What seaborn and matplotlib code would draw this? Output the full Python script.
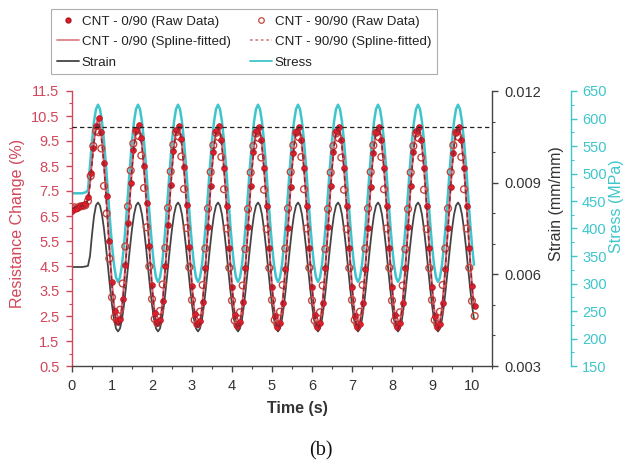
import numpy as np
import matplotlib
matplotlib.use("Agg")
import matplotlib.pyplot as plt
from matplotlib.lines import Line2D
from matplotlib.ticker import MultipleLocator, FixedLocator, FormatStrFormatter
import seaborn as sns

# ---------------- data ----------------
t_line = np.round(np.arange(202) * 0.05, 2)          # 0.00 ... 10.05 s
t_raw = np.round(np.arange(152) / 15.0, 3)           # raw sampling, 0 ... 10.07 s

stress_mpa = [
    464, 464, 464, 464, 464, 464, 465, 466, 470, 514, 559, 594, 617,
    625, 617, 594, 559, 514, 464, 414, 369, 334, 311, 303, 311, 334, 369, 414, 464, 514, 559, 594, 617,
    625, 617, 594, 559, 514, 464, 414, 369, 334, 311, 303, 311, 334, 369, 414, 464, 514, 559, 594, 617,
    625, 617, 594, 559, 514, 464, 414, 369, 334, 311, 303, 311, 334, 369, 414, 464, 514, 559, 594, 617,
    625, 617, 594, 559, 514, 464, 414, 369, 334, 311, 303, 311, 334, 369, 414, 464, 514, 559, 594, 617,
    625, 617, 594, 559, 514, 464, 414, 369, 334, 311, 303, 311, 334, 369, 414, 464, 514, 559, 594, 617,
    625, 617, 594, 559, 514, 464, 414, 369, 334, 311, 303, 311, 334, 369, 414, 464, 514, 559, 594, 617,
    625, 617, 594, 559, 514, 464, 414, 369, 334, 311, 303, 311, 334, 369, 414, 464, 514, 559, 594, 617,
    625, 617, 594, 559, 514, 464, 414, 369, 334, 311, 303, 311, 334, 369, 414, 464, 514, 559, 594, 617,
    625, 617, 594, 559, 514, 464, 414, 369, 334, 311, 303, 311, 334, 369, 414, 464, 514, 559, 594, 617,
    625, 617, 594, 559, 514, 464, 414, 369, 334,
]

strain_mm = [
    0.00624, 0.00624, 0.00624, 0.00624, 0.00624, 0.00624, 0.00625, 0.00626, 0.00628, 0.00660, 0.00730, 0.00790, 0.00826,
    0.00835, 0.00825, 0.00795, 0.00748, 0.00689, 0.00624, 0.00559, 0.00500, 0.00453, 0.00423, 0.00413, 0.00423, 0.00453, 0.00500, 0.00559, 0.00624, 0.00689, 0.00748, 0.00795, 0.00825,
    0.00835, 0.00825, 0.00795, 0.00748, 0.00689, 0.00624, 0.00559, 0.00500, 0.00453, 0.00423, 0.00413, 0.00423, 0.00453, 0.00500, 0.00559, 0.00624, 0.00689, 0.00748, 0.00795, 0.00825,
    0.00835, 0.00825, 0.00795, 0.00748, 0.00689, 0.00624, 0.00559, 0.00500, 0.00453, 0.00423, 0.00413, 0.00423, 0.00453, 0.00500, 0.00559, 0.00624, 0.00689, 0.00748, 0.00795, 0.00825,
    0.00835, 0.00825, 0.00795, 0.00748, 0.00689, 0.00624, 0.00559, 0.00500, 0.00453, 0.00423, 0.00413, 0.00423, 0.00453, 0.00500, 0.00559, 0.00624, 0.00689, 0.00748, 0.00795, 0.00825,
    0.00835, 0.00825, 0.00795, 0.00748, 0.00689, 0.00624, 0.00559, 0.00500, 0.00453, 0.00423, 0.00413, 0.00423, 0.00453, 0.00500, 0.00559, 0.00624, 0.00689, 0.00748, 0.00795, 0.00825,
    0.00835, 0.00825, 0.00795, 0.00748, 0.00689, 0.00624, 0.00559, 0.00500, 0.00453, 0.00423, 0.00413, 0.00423, 0.00453, 0.00500, 0.00559, 0.00624, 0.00689, 0.00748, 0.00795, 0.00825,
    0.00835, 0.00825, 0.00795, 0.00748, 0.00689, 0.00624, 0.00559, 0.00500, 0.00453, 0.00423, 0.00413, 0.00423, 0.00453, 0.00500, 0.00559, 0.00624, 0.00689, 0.00748, 0.00795, 0.00825,
    0.00835, 0.00825, 0.00795, 0.00748, 0.00689, 0.00624, 0.00559, 0.00500, 0.00453, 0.00423, 0.00413, 0.00423, 0.00453, 0.00500, 0.00559, 0.00624, 0.00689, 0.00748, 0.00795, 0.00825,
    0.00835, 0.00825, 0.00795, 0.00748, 0.00689, 0.00624, 0.00559, 0.00500, 0.00453, 0.00423, 0.00413, 0.00423, 0.00453, 0.00500, 0.00559, 0.00624, 0.00689, 0.00748, 0.00795, 0.00825,
    0.00835, 0.00825, 0.00795, 0.00748, 0.00689, 0.00624, 0.00559, 0.00500, 0.00453,
]

spline_0_90 = [
    6.70, 6.74, 6.78, 6.82, 6.85, 6.88, 6.93, 7.00, 7.20, 7.85, 8.70, 9.50, 10.10,
    10.40, 10.15, 9.55, 8.60, 7.45, 6.15, 4.90, 3.80, 2.95, 2.42, 2.25, 2.40, 2.90, 3.76, 4.86, 6.08, 7.32, 8.44, 9.33, 9.90,
    10.12, 9.90, 9.33, 8.44, 7.32, 6.08, 4.84, 3.73, 2.86, 2.32, 2.15, 2.30, 2.84, 3.72, 4.83, 6.08, 7.32, 8.44, 9.33, 9.90,
    10.10, 9.90, 9.33, 8.44, 7.32, 6.08, 4.83, 3.71, 2.83, 2.28, 2.10, 2.27, 2.83, 3.71, 4.83, 6.08, 7.32, 8.44, 9.33, 9.90,
    10.08, 9.88, 9.32, 8.44, 7.32, 6.08, 4.83, 3.71, 2.82, 2.25, 2.05, 2.25, 2.82, 3.71, 4.83, 6.08, 7.32, 8.44, 9.33, 9.90,
    10.10, 9.90, 9.33, 8.44, 7.32, 6.07, 4.82, 3.70, 2.81, 2.24, 2.03, 2.24, 2.81, 3.70, 4.82, 6.07, 7.32, 8.44, 9.33, 9.90,
    10.08, 9.88, 9.32, 8.43, 7.31, 6.07, 4.82, 3.70, 2.81, 2.24, 2.04, 2.24, 2.81, 3.70, 4.82, 6.07, 7.31, 8.43, 9.32, 9.89,
    10.10, 9.90, 9.33, 8.44, 7.32, 6.08, 4.83, 3.71, 2.82, 2.25, 2.05, 2.25, 2.82, 3.71, 4.83, 6.08, 7.32, 8.44, 9.33, 9.90,
    10.08, 9.88, 9.32, 8.43, 7.31, 6.07, 4.82, 3.70, 2.81, 2.24, 2.04, 2.24, 2.81, 3.70, 4.82, 6.07, 7.31, 8.43, 9.32, 9.89,
    10.10, 9.90, 9.33, 8.44, 7.32, 6.08, 4.83, 3.71, 2.82, 2.25, 2.05, 2.25, 2.82, 3.71, 4.83, 6.08, 7.32, 8.44, 9.33, 9.90,
    10.10, 9.90, 9.33, 8.44, 7.32, 6.08, 4.83, 3.71, 2.85,
]

spline_90_90 = [
    6.80, 6.82, 6.84, 6.86, 6.88, 6.90, 6.93, 6.98, 7.15, 7.75, 8.60, 9.45, 10.00,
    10.25, 10.00, 9.40, 8.48, 7.33, 6.06, 4.80, 3.68, 2.80, 2.24, 2.05, 2.22, 2.78, 3.66, 4.78, 6.03, 7.27, 8.39, 9.28, 9.85,
    10.06, 9.86, 9.29, 8.40, 7.28, 6.04, 4.79, 3.67, 2.78, 2.22, 2.03, 2.21, 2.78, 3.66, 4.78, 6.03, 7.27, 8.39, 9.28, 9.85,
    10.05, 9.85, 9.28, 8.39, 7.27, 6.03, 4.78, 3.66, 2.77, 2.20, 2.00, 2.20, 2.77, 3.66, 4.78, 6.03, 7.27, 8.39, 9.28, 9.85,
    10.04, 9.84, 9.27, 8.38, 7.26, 6.02, 4.77, 3.65, 2.76, 2.19, 1.99, 2.19, 2.76, 3.65, 4.77, 6.02, 7.26, 8.38, 9.27, 9.84,
    10.05, 9.85, 9.28, 8.39, 7.27, 6.03, 4.78, 3.66, 2.77, 2.20, 2.00, 2.20, 2.77, 3.66, 4.78, 6.03, 7.27, 8.39, 9.28, 9.85,
    10.04, 9.84, 9.27, 8.38, 7.26, 6.02, 4.77, 3.65, 2.76, 2.19, 1.99, 2.19, 2.76, 3.65, 4.77, 6.02, 7.26, 8.38, 9.27, 9.84,
    10.05, 9.85, 9.28, 8.39, 7.27, 6.03, 4.78, 3.66, 2.77, 2.20, 2.00, 2.20, 2.77, 3.66, 4.78, 6.03, 7.27, 8.39, 9.28, 9.85,
    10.04, 9.84, 9.27, 8.38, 7.26, 6.02, 4.77, 3.65, 2.76, 2.19, 1.99, 2.19, 2.76, 3.65, 4.77, 6.02, 7.26, 8.38, 9.27, 9.84,
    10.05, 9.85, 9.28, 8.39, 7.27, 6.03, 4.78, 3.66, 2.77, 2.20, 2.00, 2.20, 2.77, 3.66, 4.78, 6.03, 7.27, 8.39, 9.28, 9.85,
    10.05, 9.85, 9.28, 8.39, 7.27, 6.03, 4.78, 3.66, 2.77,
]

raw_0_90 = [
    6.70, 6.78, 6.83, 6.88, 6.92, 6.98, 7.25, 8.20, 9.20, 10.10, 10.42, 9.85, 8.60, 7.30, 5.50,
    3.85, 2.70, 2.30, 2.38, 3.20, 4.55, 6.20, 7.80, 9.15, 9.95, 10.12, 9.60, 8.50, 7.00, 5.30,
    3.75, 2.62, 2.25, 2.35, 3.12, 4.48, 6.12, 7.75, 9.10, 9.92, 10.10, 9.58, 8.46, 6.95, 5.26,
    3.70, 2.58, 2.20, 2.30, 3.08, 4.42, 6.06, 7.70, 9.05, 9.88, 10.08, 9.55, 8.42, 6.90, 5.22,
    3.68, 2.55, 2.12, 2.26, 3.05, 4.40, 6.05, 7.68, 9.04, 9.88, 10.06, 9.54, 8.42, 6.89, 5.22,
    3.66, 2.52, 2.05, 2.22, 3.02, 4.38, 6.03, 7.66, 9.02, 9.86, 10.05, 9.52, 8.40, 6.88, 5.20,
    3.68, 2.54, 2.08, 2.24, 3.04, 4.40, 6.05, 7.68, 9.04, 9.88, 10.06, 9.54, 8.42, 6.89, 5.22,
    3.66, 2.52, 2.05, 2.20, 3.02, 4.38, 6.03, 7.66, 9.02, 9.86, 10.05, 9.52, 8.40, 6.88, 5.20,
    3.68, 2.54, 2.06, 2.22, 3.04, 4.40, 6.05, 7.68, 9.04, 9.88, 10.06, 9.54, 8.42, 6.89, 5.22,
    3.66, 2.52, 2.05, 2.20, 3.02, 4.38, 6.03, 7.66, 9.02, 9.86, 10.05, 9.52, 8.40, 6.88, 5.20,
    3.70, 2.90,
]

raw_90_90 = [
    6.80, 6.85, 6.82, 6.88, 6.90, 6.93, 7.10, 8.10, 9.30, 9.90, 9.85, 9.20, 7.70, 6.60, 4.80,
    3.25, 2.45, 2.30, 2.75, 3.80, 5.28, 6.88, 8.32, 9.40, 9.90, 9.70, 8.92, 7.62, 6.05, 4.48,
    3.18, 2.38, 2.22, 2.70, 3.76, 5.22, 6.82, 8.28, 9.35, 9.85, 9.68, 8.88, 7.58, 6.02, 4.45,
    3.14, 2.34, 2.17, 2.67, 3.74, 5.20, 6.80, 8.26, 9.33, 9.83, 9.66, 8.86, 7.57, 6.00, 4.43,
    3.12, 2.32, 2.15, 2.65, 3.72, 5.18, 6.78, 8.24, 9.30, 9.80, 9.62, 8.84, 7.55, 5.98, 4.42,
    3.14, 2.34, 2.17, 2.67, 3.74, 5.20, 6.80, 8.26, 9.33, 9.83, 9.66, 8.86, 7.57, 6.00, 4.43,
    3.12, 2.32, 2.15, 2.65, 3.72, 5.18, 6.78, 8.24, 9.30, 9.80, 9.62, 8.84, 7.55, 5.98, 4.42,
    3.14, 2.34, 2.17, 2.67, 3.74, 5.20, 6.80, 8.26, 9.33, 9.83, 9.66, 8.86, 7.57, 6.00, 4.43,
    3.12, 2.32, 2.15, 2.65, 3.72, 5.18, 6.78, 8.24, 9.30, 9.80, 9.62, 8.84, 7.55, 5.98, 4.42,
    3.14, 2.34, 2.17, 2.67, 3.74, 5.20, 6.80, 8.26, 9.33, 9.83, 9.66, 8.86, 7.57, 6.00, 4.43,
    3.10, 2.50,
]

threshold_level = 10.05

legend_labels = ["CNT - 0/90 (Raw Data)", "CNT - 0/90 (Spline-fitted)", "Strain",
                 "CNT - 90/90 (Raw Data)", "CNT - 90/90 (Spline-fitted)", "Stress"]
res_ticks = [0.5, 1.5, 2.5, 3.5, 4.5, 5.5, 6.5, 7.5, 8.5, 9.5, 10.5, 11.5]
strain_ticks = [0.003, 0.006, 0.009, 0.012]
stress_ticks = [150, 200, 250, 300, 350, 400, 450, 500, 550, 600, 650]
time_ticks = [0, 1, 2, 3, 4, 5, 6, 7, 8, 9, 10]

# ---------------- style ----------------
sns.set_theme(style="ticks")
plt.rcParams["font.family"] = ["Liberation Sans", "DejaVu Sans"]

RED_AX = "#d2475a"
DOT_RED = "#dc1f2b"
OPEN_RED = "#c2473f"
SPL0 = "#e0606e"
SPL90 = "#8a2432"
GRAY = "#444444"
CYAN = "#3ec6cc"

fig = plt.figure(figsize=(6.27, 4.69), dpi=100)
fig.patch.set_facecolor("white")
ax = fig.add_axes([72 / 627, 1 - 366 / 469, 420 / 627, 275 / 469])
ax2 = ax.twinx()
ax3 = ax.twinx()

# layering: stress at back, strain, then resistance
ax3.set_zorder(1)
ax2.set_zorder(2)
ax.set_zorder(3)
ax.patch.set_visible(False)
ax2.patch.set_visible(False)
ax3.patch.set_visible(False)

# stress
sns.lineplot(x=t_line, y=stress_mpa, ax=ax3, color=CYAN, linewidth=1.8,
             estimator=None, sort=False, legend=False)
# strain
sns.lineplot(x=t_line, y=strain_mm, ax=ax2, color=GRAY, linewidth=1.3,
             estimator=None, sort=False, legend=False)
# resistance
sns.lineplot(x=t_line, y=spline_0_90, ax=ax, color=SPL0, linewidth=1.5,
             estimator=None, sort=False, legend=False, zorder=2)
sns.scatterplot(x=t_raw, y=raw_90_90, ax=ax, color=OPEN_RED, s=24,
                edgecolor=OPEN_RED, linewidth=1.0, legend=False, zorder=3)
ax.collections[-1].set_facecolor("none")
sns.scatterplot(x=t_raw, y=raw_0_90, ax=ax, color=DOT_RED, s=18,
                edgecolor="#b0101c", linewidth=0.4, legend=False, zorder=4)
sns.lineplot(x=t_line, y=spline_90_90, ax=ax, color=SPL90, linewidth=1.1,
             linestyle=(0, (3, 2)), estimator=None, sort=False, legend=False, zorder=5)
ax.axhline(threshold_level, color="#222222", linestyle=(0, (3.5, 2.5)), linewidth=0.9, zorder=6)

# ---------------- axes ----------------
ax.set_xlim(0, 10.5)
ax.set_ylim(0.5, 11.5)
ax2.set_ylim(0.003, 0.012)
ax3.set_ylim(150, 650)

ax.xaxis.set_major_locator(FixedLocator(time_ticks))
ax.xaxis.set_minor_locator(MultipleLocator(0.5))
ax.yaxis.set_major_locator(FixedLocator(res_ticks))
ax.yaxis.set_minor_locator(MultipleLocator(0.5))
ax.yaxis.set_major_formatter(FormatStrFormatter("%.1f"))
ax2.yaxis.set_major_locator(FixedLocator(strain_ticks))
ax2.yaxis.set_minor_locator(MultipleLocator(0.001))
ax2.yaxis.set_major_formatter(FormatStrFormatter("%.3f"))
ax3.yaxis.set_major_locator(FixedLocator(stress_ticks))
ax3.yaxis.set_minor_locator(MultipleLocator(25))

for a in (ax, ax2, ax3):
    a.spines["top"].set_visible(False)
ax.spines["right"].set_visible(False)
for a in (ax2, ax3):
    a.spines["left"].set_visible(False)
    a.spines["bottom"].set_visible(False)

ax.spines["left"].set_color(RED_AX)
ax.spines["left"].set_linewidth(1.0)
ax.spines["bottom"].set_color(GRAY)
ax.spines["bottom"].set_linewidth(1.0)
ax2.spines["right"].set_color(GRAY)
ax2.spines["right"].set_linewidth(1.0)
ax3.spines["right"].set_position(("axes", 1 + 79 / 420))
ax3.spines["right"].set_color(CYAN)
ax3.spines["right"].set_linewidth(1.0)

ax.tick_params(axis="x", which="major", direction="out", length=4, width=1,
               color=GRAY, labelcolor="#333333", labelsize=10.5, pad=5)
ax.tick_params(axis="x", which="minor", direction="out", length=2.5, width=0.8, color=GRAY)
ax.tick_params(axis="y", which="major", direction="out", length=4, width=1,
               color=RED_AX, labelcolor=RED_AX, labelsize=10.5, pad=5)
ax.tick_params(axis="y", which="minor", direction="out", length=2.5, width=0.8, color=RED_AX)
ax2.tick_params(axis="y", which="major", direction="out", length=4, width=1,
                color=GRAY, labelcolor="#333333", labelsize=10.5, pad=5)
ax2.tick_params(axis="y", which="minor", direction="out", length=2.5, width=0.8, color=GRAY)
ax3.tick_params(axis="y", which="major", direction="out", length=4, width=1,
                color=CYAN, labelcolor=CYAN, labelsize=10.5, pad=4)
ax3.tick_params(axis="y", which="minor", direction="out", length=2.5, width=0.8, color=CYAN)

ax.set_xlabel("Time (s)", fontsize=11.5, fontweight="bold", color="#333333")
ax.xaxis.set_label_coords((297 - 72) / 420, -(408 - 366) / 275)
ax.xaxis.label.set_va("center")
ax.set_ylabel("Resistance Change (%)", fontsize=11.5, color=RED_AX)
ax.yaxis.set_label_coords((18 - 72) / 420, 0.52)
ax.yaxis.label.set_va("center")
ax2.set_ylabel("Strain (mm/mm)", fontsize=11.5, color="#333333")
ax2.yaxis.set_label_coords((557 - 72) / 420, 0.59)
ax2.yaxis.label.set_va("center")
ax3.set_ylabel("Stress (MPa)", fontsize=11.5, color=CYAN)
ax3.yaxis.set_label_coords((616 - 72) / 420, 0.58)
ax3.yaxis.label.set_va("center")

# ---------------- legend ----------------
handles = [
    Line2D([], [], linestyle="none", marker="o", markersize=3.5, color=DOT_RED, markeredgecolor="#b0101c"),
    Line2D([], [], color="#e0808a", linewidth=1.3),
    Line2D([], [], color=GRAY, linewidth=1.3),
    Line2D([], [], linestyle="none", marker="o", markersize=4, markerfacecolor="none",
           markeredgecolor=OPEN_RED, markeredgewidth=0.9),
    Line2D([], [], color="#d88890", linewidth=1.3, linestyle=(0, (1.5, 1.5))),
    Line2D([], [], color=CYAN, linewidth=1.3),
]
leg = fig.legend(handles, legend_labels, ncol=2, loc="center",
                 bbox_to_anchor=(244 / 627, 1 - 42 / 469), bbox_transform=fig.transFigure,
                 fontsize=9.6, handlelength=1.7, handletextpad=0.2, columnspacing=1.4,
                 borderpad=0.45, labelspacing=0.6, frameon=True, fancybox=False)
leg.get_frame().set_edgecolor("#999999")
leg.get_frame().set_linewidth(0.8)
for txt in leg.get_texts():
    txt.set_color("#222222")

fig.text(321 / 627, 1 - 451 / 469, "(b)", ha="center", va="center",
         fontsize=14.5, family=["Liberation Serif", "DejaVu Serif"], color="#111111")

fig.savefig("out.png", dpi=100, facecolor="white")
